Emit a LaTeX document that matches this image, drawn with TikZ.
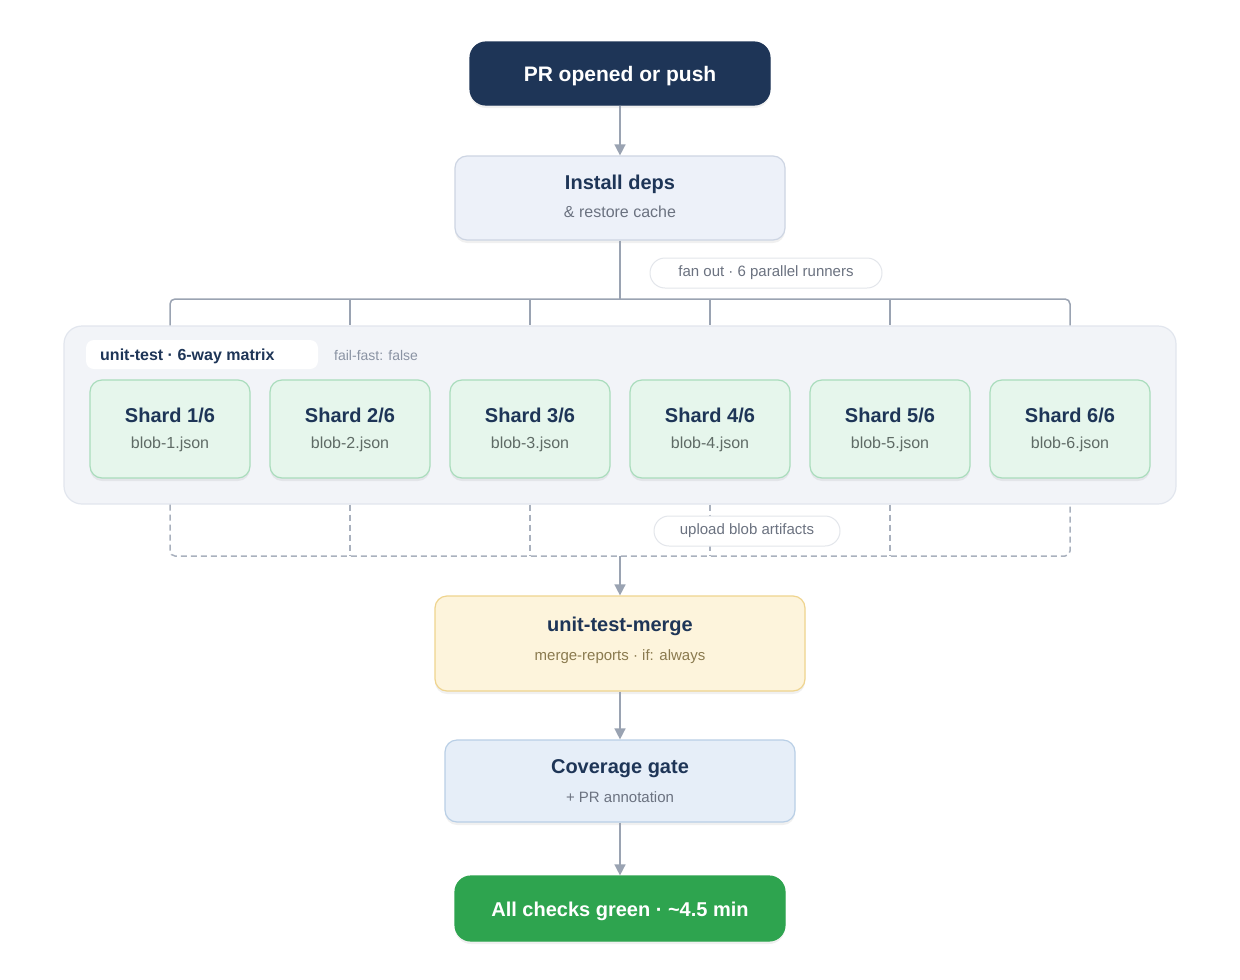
\documentclass[tikz,border=0pt]{standalone}
\usepackage{fontspec}
\setmainfont{Liberation Sans}
\usetikzlibrary{arrows.meta,shadows,calc}
\definecolor{navy}{HTML}{1E3557}
\definecolor{conn}{HTML}{9AA3B2}
\definecolor{subgray}{HTML}{6B7280}
\definecolor{lightgray}{HTML}{8A93A3}
\definecolor{instfill}{HTML}{EDF1F9}
\definecolor{instdraw}{HTML}{CDD5E3}
\definecolor{contfill}{HTML}{F2F4F8}
\definecolor{contdraw}{HTML}{E2E6EE}
\definecolor{shfill}{HTML}{E6F6EC}
\definecolor{shdraw}{HTML}{A9DCBC}
\definecolor{shsub}{HTML}{5F6B66}
\definecolor{mfill}{HTML}{FDF4DC}
\definecolor{mdraw}{HTML}{EFD48E}
\definecolor{msub}{HTML}{8A7A4F}
\definecolor{cfill}{HTML}{E6EEF8}
\definecolor{cdraw}{HTML}{B9CFE6}
\definecolor{gfill}{HTML}{2EA44F}
\definecolor{pilldraw}{HTML}{E3E6EB}
\tikzset{
  box/.style={rounded corners=12pt, line width=1.2pt, align=center, inner sep=0pt,
    drop shadow={shadow xshift=0pt, shadow yshift=-3pt, opacity=0.06, fill=black}},
  ttl/.style={font=\fontsize{20}{24}\selectfont\bfseries, text=navy},
  sub/.style={font=\fontsize{16}{19}\selectfont, text=subgray},
  arr/.style={draw=conn, line width=1.5pt, -{Triangle[width=11pt,length=11pt]}},
  conline/.style={draw=conn, line width=1.5pt},
  dashline/.style={draw=conn!85, line width=1.5pt, dash pattern=on 6pt off 4pt},
  pill/.style={draw=pilldraw, fill=white, rounded corners=15pt, line width=1pt,
    minimum height=30pt, inner xsep=0pt, font=\fontsize{15}{18}\selectfont, text=subgray},
}
\begin{document}
\begin{tikzpicture}[x=1pt,y=-1pt]
\useasboundingbox[fill=white] (0,0) rectangle (1240,980);

% top node
\node[box, fill=navy, draw=navy, rounded corners=16pt, minimum width=300pt, minimum height=63pt,
  text height=15pt, text depth=0pt,
  font=\fontsize{21}{25}\selectfont\bfseries, text=white] (pr) at (620,73.5) {PR opened or push};

% install deps
\node[box, fill=instfill, draw=instdraw, minimum width=330pt, minimum height=84pt] (inst) at (620,198) {};
\node[ttl] (instt) at (620,184) {Install deps};
\node[sub] (insts) at (620,212) {\& restore cache};

\draw[arr] (pr.south) -- (inst.north);

% container
\node[rounded corners=18pt, fill=contfill, draw=contdraw, line width=1.2pt,
  minimum width=1112pt, minimum height=178pt, inner sep=0pt] (cont) at (620,415) {};
\node[fill=white, rounded corners=8pt, minimum width=232pt, minimum height=29pt, inner sep=0pt] (mlab) at (202,354.5) {};
\node[anchor=base west, font=\fontsize{16}{19}\selectfont\bfseries, text=navy, inner sep=0pt] (mlabt) at (100,360.5) {unit-test · 6-way matrix};
\node[anchor=base west, font=\fontsize{14}{17}\selectfont, text=lightgray, inner sep=0pt] (ff) at (334,360) {fail-fast: false};

% shards
\foreach \i/\x in {1/170,2/350,3/530,4/710,5/890,6/1070}{
  \node[box, fill=shfill, draw=shdraw, minimum width=160pt, minimum height=98pt] (s\i) at (\x,429) {};
  \node[ttl] (s\i t) at (\x,415) {Shard \i/6};
  \node[sub, text=shsub] (s\i s) at (\x,444) {blob-\i.json};
}

% fan out bus
\coordinate (bus) at (620,299);
\draw[conline] (inst.south) -- (bus);
\draw[conline, rounded corners=5pt] (s1.north |- cont.north) -- (s1.north |- bus) -- (s6.north |- bus) -- (s6.north |- cont.north);
\foreach \i in {2,3,4,5}{
  \draw[conline] (s\i.north |- bus) -- (s\i.north |- cont.north);
}
\node[pill, minimum width=232pt] (fan) at (766,273) {fan out · 6 parallel runners};

% merge
\node[box, fill=mfill, draw=mdraw, minimum width=370pt, minimum height=95pt] (merge) at (620,643.5) {};
\node[ttl] (merget) at (620,626) {unit-test-merge};
\node[sub, text=msub, font=\fontsize{15}{18}\selectfont] (merges) at (620,657) {merge-reports · if: always};

% fan in bus (dashed)
\coordinate (bus2) at (620,556);
\draw[dashline, rounded corners=5pt] (s1.south |- cont.south) -- (s1.south |- bus2) -- (s6.south |- bus2) -- (s6.south |- cont.south);
\foreach \i in {2,3,4,5}{
  \draw[dashline] (s\i.south |- cont.south) -- (s\i.south |- bus2);
}
\node[pill, minimum width=186pt] (upl) at (747,531) {upload blob artifacts};
\draw[arr] (bus2) -- (merge.north);

% coverage
\node[box, fill=cfill, draw=cdraw, minimum width=350pt, minimum height=82pt] (cov) at (620,781) {};
\node[ttl] (covt) at (620,769) {Coverage gate};
\node[sub, font=\fontsize{15}{18}\selectfont] (covs) at (620,797) {+ PR annotation};
\draw[arr] (merge.south) -- (cov.north);

% final
\node[box, fill=gfill, draw=gfill, rounded corners=16pt, minimum width=330pt, minimum height=65pt,
  text height=15pt, text depth=0pt,
  font=\fontsize{20}{24}\selectfont\bfseries, text=white] (done) at (620,908.5) {All checks green · \textasciitilde4.5 min};
\draw[arr] (cov.south) -- (done.north);
\end{tikzpicture}
\end{document}
